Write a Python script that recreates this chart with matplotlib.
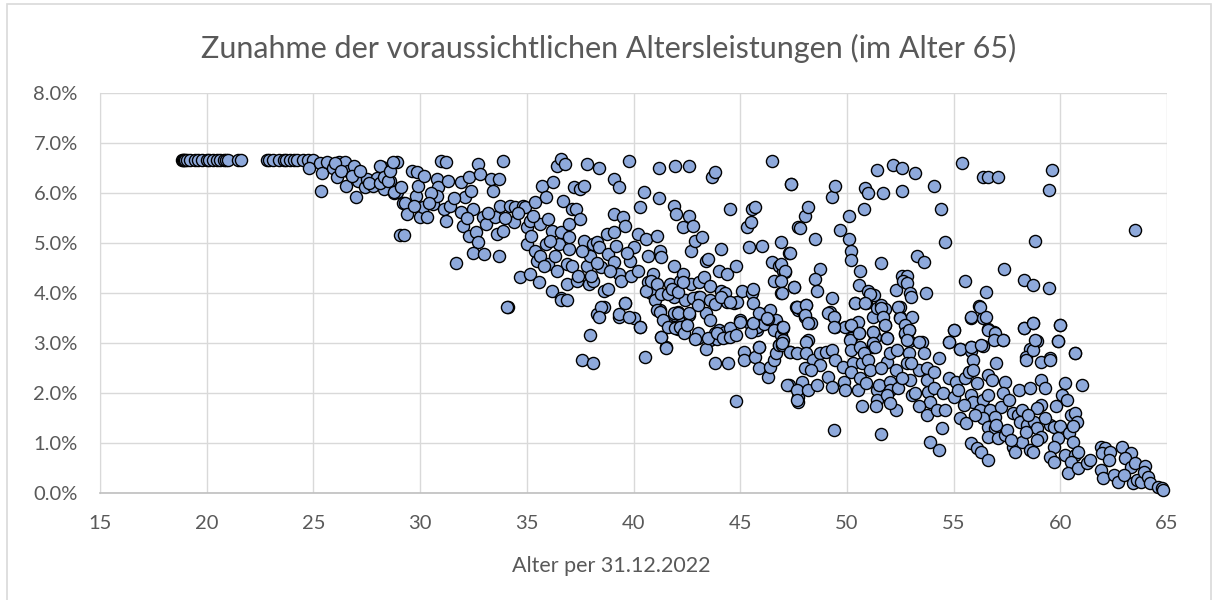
import matplotlib
matplotlib.use("Agg")
import matplotlib.pyplot as plt
from matplotlib.patches import Rectangle
from matplotlib.ticker import FuncFormatter

# ---- data: (Alter per 31.12.2022, Zunahme in %) ----
flat_young = [(18.83, 6.67), (18.9, 6.67), (18.95, 6.67), (19.0, 6.67), (19.1, 6.67), (19.2, 6.67),
              (19.45, 6.67), (19.6, 6.67), (19.8, 6.67), (20.0, 6.67), (20.12, 6.67), (20.3, 6.67),
              (20.5, 6.67), (20.63, 6.67), (20.81, 6.67), (20.9, 6.67), (21.0, 6.67), (21.47, 6.67),
              (21.6, 6.67), (22.81, 6.67), (22.94, 6.67), (23.1, 6.67), (23.41, 6.67), (23.6, 6.67),
              (23.72, 6.67), (23.9, 6.67), (24.09, 6.67), (24.22, 6.67), (24.5, 6.67), (24.77, 6.67)]

age_25_29 = [(25.0, 6.67), (24.8, 6.5), (25.3, 6.6), (25.36, 6.05), (25.4, 6.4), (25.65, 6.63),
             (25.9, 6.5), (26.1, 6.32), (26.2, 6.63), (26.5, 6.63), (26.6, 6.45), (26.55, 6.15),
             (26.9, 6.55), (27.1, 6.25), (27.0, 5.93), (27.4, 6.12), (27.5, 6.28), (27.8, 6.15),
             (28.0, 6.3), (28.2, 6.53), (28.3, 6.08), (28.4, 6.4), (28.6, 6.25), (28.8, 6.0),
             (28.9, 6.63), (28.9, 6.03), (29.2, 5.8), (29.07, 5.17), (26.0, 6.6), (26.3, 6.45),
             (26.8, 6.35), (27.2, 6.45), (27.6, 6.2), (28.1, 6.2)]

age_28_48_high = [(28.1, 6.55), (28.3, 6.32), (28.5, 6.25), (28.6, 6.45), (28.75, 6.62), (28.8, 6.02),
                  (29.1, 6.12), (29.3, 5.8), (29.4, 5.59), (29.25, 5.17), (29.6, 6.45), (29.8, 5.95),
                  (29.85, 6.42), (29.9, 6.15), (30.0, 5.52), (30.2, 6.35), (30.15, 5.73), (30.3, 5.52),
                  (30.6, 5.79), (30.8, 6.29), (30.86, 6.12), (30.8, 5.95), (31.0, 6.65), (31.2, 6.62),
                  (31.1, 5.69), (31.2, 5.45), (31.3, 6.25), (31.4, 5.75), (31.7, 4.6), (31.9, 6.22),
                  (31.9, 5.62), (32.0, 5.35), (32.1, 5.92), (32.3, 6.32), (32.4, 6.05), (32.5, 5.69),
                  (32.3, 5.15), (32.6, 5.22), (32.7, 5.02), (32.5, 4.8), (32.7, 6.59), (32.8, 6.39),
                  (32.97, 5.52), (33.0, 4.79), (33.1, 5.39), (33.3, 6.29), (33.4, 6.05), (33.5, 5.52),
                  (33.6, 5.19), (33.7, 4.75), (33.7, 6.29), (33.75, 5.75), (33.9, 6.65), (33.9, 5.25),
                  (34.1, 3.72), (34.2, 5.75), (34.4, 5.42), (34.45, 5.72), (34.7, 4.32), (34.8, 5.75),
                  (34.9, 5.72), (35.0, 5.32), (35.0, 4.99), (35.15, 5.45), (35.15, 4.39), (35.2, 5.15),
                  (35.4, 5.82), (35.4, 4.85), (35.5, 4.65), (35.55, 4.22), (35.6, 5.39), (35.7, 6.15),
                  (35.9, 5.92), (35.9, 4.99), (36.0, 5.49), (36.0, 4.59), (36.2, 5.25), (36.2, 4.05),
                  (36.25, 6.22), (36.4, 6.55), (36.5, 4.99), (36.6, 6.69), (36.6, 5.22), (36.6, 3.89),
                  (36.7, 5.85), (36.8, 6.59), (36.9, 4.59), (36.9, 4.19), (37.0, 5.39), (37.0, 4.89),
                  (37.0, 5.12), (37.1, 4.55), (37.1, 5.69), (37.2, 6.12), (37.3, 5.69), (37.35, 4.25),
                  (37.5, 5.49), (37.5, 6.09), (37.7, 5.05), (37.7, 6.15), (37.8, 6.59), (37.8, 4.55),
                  (37.9, 4.19), (37.97, 4.75), (38.1, 4.25), (38.1, 4.99), (38.3, 5.02), (38.4, 6.5),
                  (38.4, 4.92), (38.5, 4.52), (38.6, 4.05), (38.6, 3.72), (38.75, 5.19), (38.8, 4.79),
                  (38.8, 4.09), (39.1, 5.22), (39.1, 4.62), (39.1, 5.59), (39.1, 6.29), (39.3, 6.12),
                  (39.3, 4.39), (39.3, 3.52), (39.4, 4.25), (39.5, 5.52), (39.6, 5.35), (39.6, 3.79),
                  (39.8, 6.65), (39.85, 4.65), (39.9, 4.35), (40.0, 4.92), (40.0, 3.49), (40.2, 4.45),
                  (40.2, 5.19), (40.3, 5.72), (40.3, 3.32), (40.5, 6.02), (40.6, 5.09), (40.7, 4.75),
                  (40.7, 4.22), (40.8, 3.99), (40.9, 4.39), (41.0, 3.85), (41.1, 5.15), (41.2, 6.5),
                  (41.2, 5.9), (41.25, 4.85), (41.3, 4.72), (41.25, 3.65), (41.3, 3.12), (41.5, 2.92),
                  (41.7, 4.19), (41.8, 3.45), (41.9, 5.75), (41.9, 4.55), (41.9, 3.92), (41.95, 6.55),
                  (42.0, 5.59), (42.1, 3.62), (42.2, 4.25), (42.3, 3.32), (42.3, 5.32), (42.3, 4.39),
                  (42.4, 3.85), (42.6, 6.55), (42.6, 5.55), (42.7, 4.85), (42.7, 4.19), (42.8, 5.35),
                  (42.9, 5.05), (43.0, 3.92), (43.0, 3.09), (43.05, 4.22), (43.2, 5.12), (43.3, 4.32),
                  (43.4, 3.59), (43.4, 4.65), (43.5, 4.69), (43.6, 4.15), (43.7, 6.32), (43.8, 6.42),
                  (43.99, 4.45), (44.1, 4.89), (44.1, 4.05), (44.3, 3.99), (44.4, 3.82), (44.4, 4.39),
                  (44.5, 5.69), (44.7, 3.79), (44.8, 4.55), (44.85, 3.82), (45.0, 3.45), (45.1, 4.05),
                  (45.3, 5.32), (45.4, 4.92), (45.5, 5.42), (45.55, 5.69), (45.55, 3.99), (45.6, 3.79),
                  (45.6, 4.09), (45.7, 5.72), (45.8, 3.25), (45.9, 2.92), (46.0, 4.95), (46.25, 3.59),
                  (46.4, 3.65), (46.5, 4.62), (46.5, 6.65), (46.6, 4.25), (46.6, 3.29), (46.7, 3.45),
                  (46.8, 4.55), (46.8, 2.95), (46.9, 3.99), (46.95, 3.32), (47.0, 4.45), (47.1, 4.42),
                  (47.3, 4.8), (47.4, 6.19), (47.5, 4.12), (47.6, 3.72), (47.7, 5.32), (47.7, 3.65),
                  (43.8, 3.2), (44.0, 3.25), (44.3, 3.22), (44.6, 3.15), (43.6, 3.05), (43.9, 3.08),
                  (44.4, 3.12), (45.5, 3.35), (45.8, 3.32), (46.1, 3.38), (46.3, 3.48), (46.6, 3.25),
                  (46.9, 3.15), (47.0, 3.05), (41.6, 3.35), (41.9, 3.32), (42.1, 3.28), (42.4, 3.38),
                  (42.2, 3.55), (42.6, 3.55), (40.6, 4.05), (40.8, 4.25), (41.1, 4.18), (41.3, 3.98),
                  (41.6, 3.98), (41.8, 4.08), (42.1, 4.02), (42.3, 4.22), (42.8, 3.9), (43.1, 3.92),
                  (43.6, 3.85), (43.8, 3.78), (44.1, 3.92), (44.5, 3.82),
                  (35.6, 4.75), (35.8, 4.55), (36.3, 4.75), (36.4, 4.45), (36.1, 5.05), (35.3, 5.55),
                  (34.6, 5.6), (34.0, 5.5), (33.2, 5.6), (32.2, 5.5), (31.6, 5.9), (30.5, 6.0),
                  (29.7, 5.75), (30.4, 5.8), (37.6, 4.85), (38.0, 4.35), (38.9, 4.45), (39.7, 4.8),
                  (39.2, 4.95), (38.3, 4.6), (37.4, 4.35)]

age_34_48_low = [(34.06, 3.72), (36.6, 3.85), (36.9, 3.85), (37.97, 3.15), (37.6, 2.65), (38.1, 2.59),
                 (38.3, 3.57), (38.5, 3.72), (38.4, 3.52), (39.3, 3.57), (39.8, 3.52), (39.6, 3.79),
                 (40.3, 3.32), (40.55, 2.72), (41.1, 3.65), (41.25, 3.62), (41.4, 3.45), (41.3, 3.12),
                 (41.6, 3.32), (41.5, 2.89), (41.9, 3.59), (42.1, 3.59), (41.95, 3.29), (42.2, 3.32),
                 (42.35, 3.19), (42.5, 3.35), (42.6, 3.59), (43.0, 3.75), (43.0, 3.19), (42.9, 3.07),
                 (43.4, 2.87), (43.6, 3.45), (43.5, 3.09), (43.9, 3.19), (44.2, 3.09), (44.5, 3.29),
                 (44.5, 3.12), (44.8, 3.15), (43.8, 2.59), (44.45, 2.59), (44.8, 1.84), (45.0, 3.42),
                 (45.2, 2.82), (45.2, 2.65), (45.5, 3.22), (45.6, 3.39), (45.7, 2.72), (45.9, 2.49),
                 (45.9, 2.92), (45.9, 3.59), (46.25, 3.49), (46.3, 2.31), (46.4, 2.52), (46.6, 2.65),
                 (46.7, 2.79), (46.8, 2.95), (47.0, 3.29), (47.3, 2.15), (47.7, 1.92), (47.7, 1.82),
                 (47.35, 2.82)]

age_47_61_high = [(47.4, 6.19), (46.9, 5.02), (47.35, 4.8), (46.9, 4.59), (47.1, 4.45), (46.9, 4.25),
                  (47.5, 4.13), (46.95, 3.99), (47.8, 5.31), (48.05, 5.55), (48.2, 5.72), (48.5, 5.09),
                  (48.75, 4.49), (48.5, 4.29), (48.6, 4.04), (47.65, 3.72), (47.9, 3.65), (48.1, 3.75),
                  (48.05, 3.51), (48.3, 3.4), (49.3, 5.93), (49.45, 6.15), (49.7, 5.27), (50.1, 5.55),
                  (50.1, 5.09), (50.2, 4.84), (50.2, 4.67), (49.3, 3.89), (49.2, 3.62), (49.4, 3.52),
                  (49.45, 3.32), (49.9, 3.32), (50.2, 3.35), (50.5, 3.42), (50.6, 4.45), (50.55, 4.17),
                  (50.4, 3.8), (50.9, 3.8), (50.55, 3.19), (50.2, 3.09), (48.2, 3.05), (46.95, 2.95),
                  (50.86, 6.11), (50.97, 6.0), (50.8, 5.69), (51.4, 6.47), (51.7, 6.0), (51.6, 4.6),
                  (51.0, 4.04), (51.25, 3.95), (51.1, 3.98), (51.2, 3.51), (51.4, 3.69), (51.6, 3.75),
                  (51.8, 3.67), (51.8, 3.35), (51.2, 3.22), (51.3, 3.12), (51.9, 3.09), (51.2, 2.92),
                  (52.15, 6.57), (52.6, 6.51), (52.6, 6.04), (53.2, 6.4), (52.3, 4.07), (52.6, 4.35),
                  (52.8, 4.35), (52.65, 4.25), (52.8, 4.2), (52.97, 3.99), (53.0, 3.92), (52.5, 3.71),
                  (52.5, 3.51), (53.05, 3.51), (52.9, 3.25), (52.7, 3.17), (52.9, 3.04), (53.5, 3.02),
                  (53.3, 4.74), (53.6, 4.62), (53.7, 4.0), (54.1, 6.15), (54.4, 5.69), (54.6, 5.02),
                  (55.4, 6.61), (56.4, 6.32), (56.6, 6.32), (57.1, 6.32), (55.55, 4.24), (56.5, 4.03),
                  (56.2, 3.74), (55.8, 3.5), (56.4, 3.5), (56.6, 3.27), (56.9, 3.22), (57.3, 3.05),
                  (57.0, 3.09), (55.0, 3.25), (54.8, 3.01), (55.3, 2.87), (55.8, 2.92), (55.8, 2.83),
                  (56.4, 2.94), (57.35, 4.49), (58.3, 4.27), (58.7, 4.17), (58.8, 5.05), (59.6, 6.47),
                  (59.45, 6.07), (59.45, 4.1), (58.7, 3.4), (58.3, 3.29), (58.9, 3.04), (58.6, 2.87),
                  (60.0, 3.35), (59.9, 3.04), (60.7, 2.79), (63.5, 5.27), (58.4, 2.72), (59.5, 2.69)]

age_47_65_low = [(47.65, 3.72), (48.1, 3.75), (48.05, 3.55), (48.2, 3.39), (47.0, 3.32), (46.95, 2.99),
                 (47.35, 2.82), (47.65, 2.79), (48.1, 3.02), (48.1, 2.8), (48.4, 2.65), (48.75, 2.79),
                 (48.75, 2.55), (48.05, 2.49), (48.3, 2.45), (47.2, 2.15), (47.9, 2.22), (47.65, 2.05),
                 (48.2, 2.05), (47.65, 1.85), (48.6, 2.15), (49.1, 3.59), (49.4, 3.52), (49.4, 3.32),
                 (49.0, 2.82), (49.3, 2.85), (49.45, 2.65), (49.1, 2.31), (49.3, 2.12), (49.8, 2.52),
                 (49.85, 2.22), (49.9, 2.05), (49.4, 1.25), (50.15, 3.05), (50.2, 3.35), (50.4, 3.79),
                 (50.85, 3.79), (50.2, 2.85), (50.55, 3.19), (50.6, 2.92), (50.3, 2.59), (50.2, 2.42),
                 (50.7, 2.59), (50.8, 2.79), (50.5, 2.05), (50.7, 1.73), (50.6, 2.29), (51.0, 2.65),
                 (51.1, 2.45), (51.2, 3.22), (51.2, 2.99), (51.3, 2.92), (51.4, 2.05), (51.5, 2.15),
                 (51.4, 1.85), (51.35, 1.73), (51.6, 1.17), (51.6, 3.69), (51.7, 3.51), (51.8, 3.35),
                 (51.9, 3.09), (51.9, 2.62), (52.0, 2.79), (52.0, 2.22), (52.0, 2.05), (51.9, 1.95),
                 (52.35, 2.85), (52.3, 2.45), (52.3, 1.65), (52.0, 1.79), (52.4, 2.09), (52.4, 3.72),
                 (52.5, 3.49), (52.7, 3.35), (52.7, 3.19), (52.9, 3.25), (52.8, 3.05), (52.9, 2.79),
                 (52.8, 2.59), (52.97, 2.25), (53.05, 1.95), (53.2, 1.99), (53.4, 2.45), (53.4, 3.02),
                 (53.6, 2.79), (53.75, 2.49), (53.75, 2.25), (53.8, 2.02), (54.1, 2.09), (53.9, 1.82),
                 (53.4, 1.73), (53.75, 1.55), (54.2, 1.65), (54.3, 2.69), (54.1, 2.42), (54.5, 1.99),
                 (54.6, 1.65), (54.45, 1.29), (53.9, 1.02), (54.3, 0.85), (55.0, 1.92), (54.8, 2.29),
                 (55.1, 2.22), (54.8, 3.02), (55.0, 3.25), (55.3, 2.87), (55.3, 1.49), (55.55, 2.29),
                 (55.7, 2.42), (55.6, 1.39), (55.8, 2.92), (55.9, 2.65), (55.9, 2.45), (55.8, 1.95),
                 (55.9, 1.82), (56.1, 2.19), (56.25, 3.72), (55.8, 3.52), (56.5, 3.52), (56.6, 3.25),
                 (56.95, 3.19), (56.9, 3.05), (57.3, 3.05), (56.3, 2.95), (57.0, 2.59), (56.6, 2.35),
                 (56.8, 2.25), (57.4, 2.22), (57.3, 1.99), (56.4, 1.85), (56.6, 1.95), (56.25, 1.65),
                 (56.7, 1.65), (57.2, 1.72), (56.4, 1.49), (56.95, 1.52), (55.8, 0.99), (56.1, 0.89),
                 (56.3, 0.82), (56.6, 0.65), (56.6, 1.32), (56.95, 1.29), (56.6, 1.12), (57.1, 1.09),
                 (57.4, 1.15), (57.5, 1.25), (57.8, 1.59), (58.0, 1.55), (58.2, 1.65), (57.8, 0.92),
                 (57.9, 0.82), (58.2, 1.02), (58.6, 0.85), (58.7, 0.82), (58.1, 1.42), (58.45, 1.35),
                 (58.75, 1.42), (58.9, 1.29), (58.4, 1.22), (59.1, 1.12), (58.9, 1.05), (59.1, 1.75),
                 (58.9, 1.69), (58.05, 2.05), (58.6, 2.09), (58.4, 2.65), (58.7, 2.85), (58.8, 3.05),
                 (58.3, 3.29), (58.7, 3.4), (59.1, 2.62), (59.5, 2.65), (59.1, 2.25), (59.3, 2.09),
                 (59.8, 1.73), (60.1, 1.95), (60.3, 1.85), (60.2, 2.2), (60.0, 3.35), (59.9, 3.04),
                 (60.7, 2.8), (61.0, 2.15), (59.5, 1.35), (59.7, 1.32), (60.0, 1.33), (59.9, 1.09),
                 (59.7, 0.92), (59.5, 0.72), (59.7, 0.62), (60.2, 0.75), (60.4, 1.19), (60.5, 1.55),
                 (60.7, 1.59), (60.8, 1.42), (60.6, 1.33), (60.6, 1.02), (60.7, 0.75), (60.85, 0.82),
                 (60.5, 0.62), (60.35, 0.4), (60.85, 0.49), (61.25, 0.59), (61.4, 0.65), (61.9, 0.92),
                 (62.1, 0.89), (61.95, 0.79), (62.35, 0.82), (62.3, 0.65), (61.9, 0.45), (62.0, 0.29),
                 (62.5, 0.35), (62.7, 0.22), (62.9, 0.92), (63.3, 0.79), (63.05, 0.69), (63.3, 0.52),
                 (63.5, 0.59), (63.0, 0.35), (63.4, 0.19), (63.6, 0.25), (63.8, 0.22), (63.98, 0.53),
                 (63.9, 0.42), (64.1, 0.32), (64.2, 0.19), (64.6, 0.12), (64.75, 0.09), (64.8, 0.05),
                 (55.2, 2.05), (55.5, 1.75), (56.0, 1.55), (57.6, 1.85), (57.0, 1.35), (57.7, 1.05),
                 (58.5, 1.55), (59.3, 1.5), (53.0, 2.6), (52.6, 2.3), (51.6, 2.5), (50.9, 2.2)]

groups = [flat_young, age_25_29, age_28_48_high, age_34_48_low, age_47_61_high, age_47_65_low]

title_text = "Zunahme der voraussichtlichen Altersleistungen (im Alter 65)"
xlabel_text = "Alter per 31.12.2022"
x_ticks = [15, 20, 25, 30, 35, 40, 45, 50, 55, 60, 65]
y_ticks = [0, 1, 2, 3, 4, 5, 6, 7, 8]

plt.rcParams['font.family'] = ['Lato', 'DejaVu Sans']

fig = plt.figure(figsize=(12.12, 6.0), dpi=100)
fig.patch.set_facecolor('white')
ax = fig.add_axes([100 / 1212, 1 - 492.7 / 600, 1067 / 1212, 399.4 / 600])

ages = [p[0] for g in groups for p in g]
rates = [p[1] for g in groups for p in g]
ax.scatter(ages, rates, s=76, facecolor='#8EA9DB', edgecolor='black', linewidth=1.0, zorder=3,
           clip_on=False)

ax.set_xlim(15, 65)
ax.set_ylim(0, 8)
ax.set_xticks(x_ticks)
ax.set_yticks(y_ticks)
ax.yaxis.set_major_formatter(FuncFormatter(lambda v, _: f"{v:.1f}%"))
ax.grid(True, color='#D9D9D9', linewidth=1.0, zorder=0)
ax.set_axisbelow(True)
for side in ['top', 'right']:
    ax.spines[side].set_visible(False)
ax.spines['left'].set_color('#D9D9D9')
ax.spines['bottom'].set_color('#BFBFBF')
ax.spines['bottom'].set_linewidth(1.2)
ax.tick_params(axis='both', length=0, labelcolor='#595959', labelsize=14.5)
ax.tick_params(axis='x', pad=16)
ax.tick_params(axis='y', pad=16)

fig.text(611 / 1212, 1 - 566 / 600, xlabel_text, ha='center', va='center',
         color='#595959', fontsize=15.5)
fig.text(0.5 * (200 + 1017) / 1212, 1 - 48 / 600, title_text, ha='center', va='center',
         fontsize=22, color='#595959', fontweight='normal')

fig.patches.append(Rectangle((7 / 1212, -0.02), 1204 / 1212, 1.02 - 4 / 600,
                             transform=fig.transFigure, fill=False, edgecolor='#D9D9D9',
                             linewidth=1.2))

fig.savefig('out.png', dpi=100, facecolor='white')
